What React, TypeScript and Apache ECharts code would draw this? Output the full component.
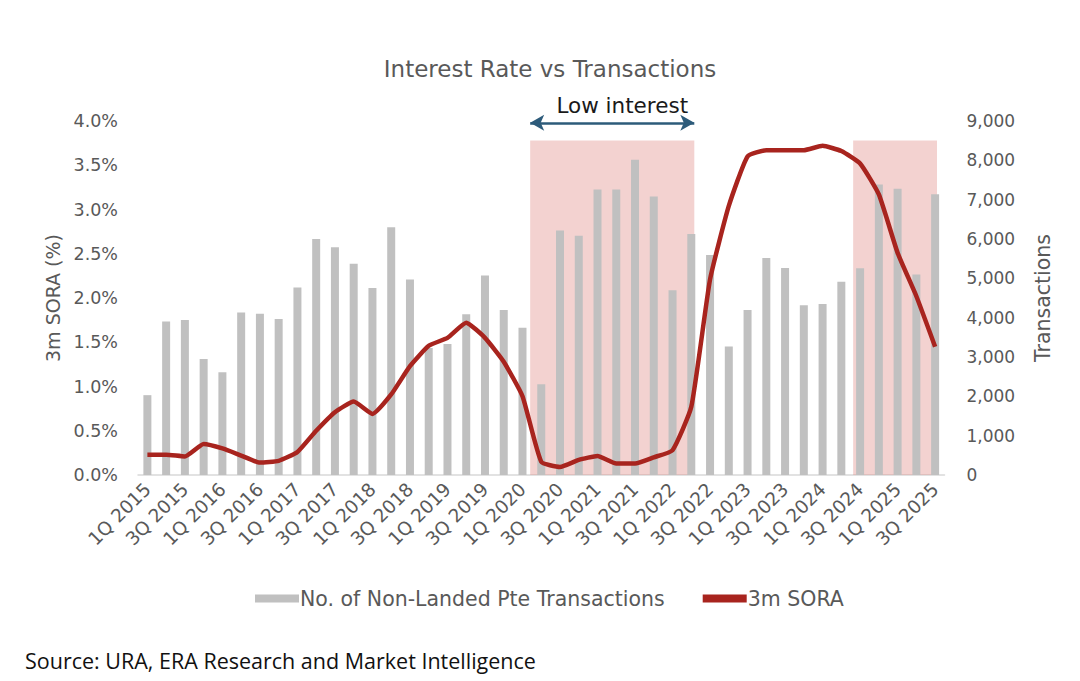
import React, { useEffect, useRef } from "react";
import * as echarts from "echarts";

const years = [2015, 2016, 2017, 2018, 2019, 2020, 2021, 2022, 2023, 2024, 2025];
const quarters = ["1Q", "2Q", "3Q", "4Q"];
const categories: string[] = [];
years.forEach((y) => quarters.forEach((q) => categories.push(`${q} ${y}`)));
categories.splice(43);

const transactions = [
  2030, 3900, 3940, 2950, 2610, 4130, 4100, 3965, 4770, 6000, 5790, 5370,
  4755, 6300, 4970, 3230, 3330, 4090, 5070, 4195, 3745, 2310, 6215, 6080,
  7260, 7260, 8015, 7080, 4695, 6130, 5595, 3270, 4195, 5520, 5265, 4315,
  4350, 4915, 5255, 7385, 7275, 5095, 7140,
];

const sora = [
  0.23, 0.23, 0.21, 0.35, 0.3, 0.22, 0.14, 0.16, 0.26, 0.5, 0.71, 0.83,
  0.69, 0.91, 1.23, 1.46, 1.55, 1.72, 1.55, 1.28, 0.89, 0.15, 0.09, 0.17,
  0.215, 0.13, 0.13, 0.2, 0.28, 0.77, 2.21, 3.04, 3.6, 3.67, 3.67, 3.67,
  3.72, 3.66, 3.52, 3.17, 2.51, 2.02, 1.45,
];

// shaded periods, in category-index units (fractional edges)
const shadedPeriods: [number, number][] = [
  [20.41, 29.16],
  [37.63, 42.1],
];
const lowInterestRange: [number, number] = [20.41, 29.16];
const lowInterestLevel = 3.98;

const GRAY = "#595959";
const FONT = "'DejaVu Sans', sans-serif";

export default function App() {
  const ref = useRef<HTMLDivElement>(null);
  useEffect(() => {
    if (!ref.current) return;
    const chart = echarts.init(ref.current, null, { renderer: "svg" });
    chart.setOption({
      animation: false,
      backgroundColor: "#ffffff",
      textStyle: { fontFamily: FONT },
      title: {
        text: "Interest Rate vs Transactions",
        left: 545,
        textAlign: "center",
        top: 52,
        textStyle: { color: GRAY, fontSize: 23, fontWeight: "normal", fontFamily: FONT },
      },
      legend: {
        bottom: 67,
        left: 250,
        itemGap: 38,
        itemWidth: 44,
        itemHeight: 8,
        textStyle: { color: GRAY, fontSize: 20.5, fontFamily: FONT, padding: [0, 0, 0, -4] },
        data: [
          { name: "No. of Non-Landed Pte Transactions", icon: "rect" },
          { name: "3m SORA", icon: "rect" },
        ],
      },
      grid: { left: 138, right: 135.5, top: 121, bottom: 206, containLabel: false },
      xAxis: [
        {
          type: "category",
          data: categories,
          boundaryGap: true,
          axisLine: { lineStyle: { color: "#d9d9d9", width: 1.5 } },
          axisTick: { show: false },
          axisLabel: {
            interval: 1,
            rotate: 45,
            color: GRAY,
            fontSize: 18.5,
            fontFamily: FONT,
            margin: 11,
          },
        },
        {
          type: "value",
          min: -0.5,
          max: 42.5,
          show: false,
        },
      ],
      yAxis: [
        {
          type: "value",
          min: 0,
          max: 4,
          interval: 0.5,
          name: "3m SORA (%)",
          nameLocation: "middle",
          nameGap: 63,
          nameTextStyle: { color: GRAY, fontSize: 19, fontFamily: FONT },
          axisLabel: {
            color: GRAY,
            fontSize: 17.5,
            fontFamily: FONT,
            margin: 20,
            formatter: (v: number) => v.toFixed(1) + "%",
          },
          splitLine: { show: false },
          axisLine: { show: false },
          axisTick: { show: false },
        },
        {
          type: "value",
          min: 0,
          max: 9000,
          interval: 1000,
          name: "Transactions",
          nameLocation: "middle",
          nameGap: 88,
          nameRotate: 90,
          nameTextStyle: { color: GRAY, fontSize: 20.5, fontFamily: FONT },
          axisLabel: {
            color: GRAY,
            fontSize: 17,
            fontFamily: FONT,
            margin: 22,
            formatter: (v: number) => v.toLocaleString("en-US"),
          },
          splitLine: { show: false },
          axisLine: { show: false },
          axisTick: { show: false },
        },
      ],
      series: [
        {
          name: "No. of Non-Landed Pte Transactions",
          type: "bar",
          xAxisIndex: 0,
          yAxisIndex: 1,
          data: transactions,
          barWidth: 8,
          itemStyle: { color: "#c0c0c0" },
          z: 2,
        },
        {
          name: "shade",
          type: "line",
          xAxisIndex: 1,
          yAxisIndex: 0,
          data: [[0, 0]],
          showSymbol: false,
          symbol: "none",
          lineStyle: { opacity: 0 },
          silent: true,
          z: 3,
          markArea: {
            silent: true,
            itemStyle: { color: "rgba(219,124,116,0.34)" },
            data: shadedPeriods.map(([a, b]) => [
              { coord: [a, 3.78] },
              { coord: [b, 0] },
            ]),
          },
          markLine: {
            silent: true,
            symbol: ["arrow", "arrow"],
            symbolSize: [12, 14],
            lineStyle: { color: "#2d5b7a", width: 2.5, type: "solid" },
            label: {
              show: true,
              position: "insideMiddleTop",
              formatter: "Low interest",
              color: "#1a1a1a",
              fontSize: 21.5,
              fontFamily: FONT,
              distance: 6,
              padding: [0, 0, 0, 20],
            },
            data: [
              [
                { coord: [lowInterestRange[0], lowInterestLevel] },
                { coord: [lowInterestRange[1], lowInterestLevel] },
              ],
            ],
          },
        },
        {
          name: "3m SORA",
          type: "line",
          xAxisIndex: 0,
          yAxisIndex: 0,
          data: sora,
          showSymbol: false,
          symbol: "none",
          smooth: 0.15,
          lineStyle: { color: "#a8241e", width: 4.5 },
          itemStyle: { color: "#a8241e" },
          z: 4,
        },
      ],
      graphic: [
        {
          type: "text",
          left: 25,
          top: 649,
          style: {
            text: "Source: URA, ERA Research and Market Intelligence",
            fill: "#111111",
            fontSize: 21.5,
            fontFamily: "'Open Sans', sans-serif",
          },
        },
      ],
    });
    return () => chart.dispose();
  }, []);
  return (
    <div
      ref={ref}
      style={{ position: "fixed", left: 0, top: 0, width: 1080, height: 681 }}
    />
  );
}
